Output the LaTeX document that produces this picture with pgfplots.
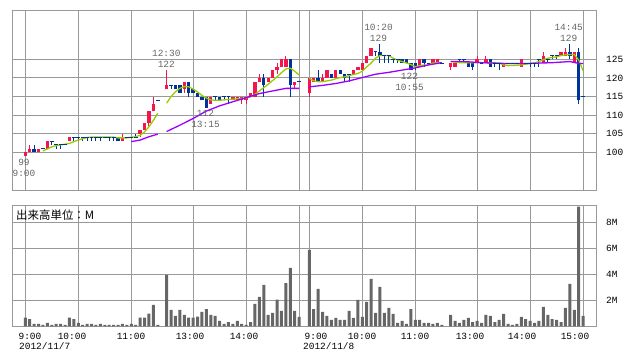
\documentclass[border=0pt]{standalone}
\usepackage{fontspec}
\setmainfont{Liberation Mono}
\newfontfamily\cjk{Noto Sans CJK JP}
\usepackage{pgfplots}
\usepackage{pgfplotstable}
\pgfplotsset{compat=1.18}
\definecolor{upc}{HTML}{F5144B}
\definecolor{dnc}{HTML}{003399}
\definecolor{maS}{HTML}{99CC00}
\definecolor{maL}{HTML}{9900FF}
\definecolor{gridc}{HTML}{999999}
\definecolor{volc}{HTML}{666666}
\definecolor{lblc}{HTML}{666666}
\newcommand{\lbl}{\fontsize{9.5}{10}\selectfont}

% i O H L C V(M)
\pgfplotstableread{
i O H L C V
0 99 100 99 100 0.67
1 100 102 100 101 0.56
2 101 102 100 100 0.18
3 100 101 100 101 0.18
4 101 101 101 101 0.10
5 101 103 101 103 0.26
6 103 103 102 103 0.10
7 102 102 101 102 0.18
8 102 102 101 102 0.18
9 102 102 102 102 0.10
10 103 104 103 104 0.67
11 104 104 103 104 0.56
12 104 104 103 104 0.26
13 104 104 103 104 0.10
14 104 104 103 104 0.18
15 104 104 103 104 0.18
16 104 104 103 104 0.10
17 104 104 103 104 0.18
18 104 104 104 104 0.10
19 104 104 103 104 0.10
20 104 104 103 104 0.10
21 104 104 103 103 0.10
22 103 105 103 104 0.18
23 104 104 104 104 0.10
24 104 104 104 104 0.18
25 104 105 104 104 0.10
26 105 106 104 106 0.67
27 106 108 106 108 0.67
28 108 111 107 111 0.97
29 111 115 111 113 1.64
30 114 114 114 114 0.10
32 117 122 117 118 3.95
33 118 118 117 118 1.26
34 118 118 117 117 0.80
35 118 118 116 116 1.26
36 117 119 116 119 0.87
37 119 119 115 116 0.67
38 117 117 116 116 0.67
39 116 116 115 115 0.74
40 115 115 114 114 1.10
41 115 115 112 112 1.33
42 113 115 113 115 0.87
43 115 115 114 115 0.80
44 115 115 114 114 0.41
45 115 115 114 115 0.18
46 115 115 113 115 0.33
47 114 115 114 115 0.18
48 114 115 114 115 0.41
49 114 115 113 115 0.18
50 114 115 113 115 0.10
51 115 116 115 116 0.33
52 115 119 115 119 1.72
53 119 121 119 120 2.26
54 120 121 115 118 3.18
55 119 120 119 120 0.87
56 120 122 120 122 1.03
57 122 124 121 123 2.05
58 123 125 123 125 1.18
59 123 126 123 125 3.33
60 125 125 115 118 4.49
61 118 119 117 119 1.18
62 119 119 119 119 0.72
}\dayone

\pgfplotstableread{
i O H L C V
0 116 120 115 120 5.87
1 119 120 119 120 1.33
2 120 122 119 119 2.87
3 119 121 119 120 1.10
4 120 122 120 122 0.80
5 121 121 120 120 0.49
6 120 122 120 122 0.64
7 122 122 121 121 0.49
8 121 121 119 120 0.49
9 121 121 119 121 1.18
10 121 122 121 122 0.64
11 122 123 122 123 2.03
12 122 124 122 124 0.72
13 124 126 124 126 1.87
14 126 128 126 128 3.64
15 127 127 126 127 1.03
16 127 129 124 126 3.03
17 126 126 124 126 1.03
18 126 126 124 126 1.41
19 125 125 124 125 0.95
20 125 125 124 125 0.26
21 125 125 124 124 0.41
22 125 125 124 124 0.18
23 124 124 122 122 1.33
24 124 124 122 123 0.49
25 123 125 123 125 0.49
26 125 125 123 124 0.26
27 124 124 124 124 0.26
28 124 125 124 125 0.18
29 124 125 124 125 0.26
30 124 124 124 124 0.10
32 123 124 122 124 0.87
33 123 124 123 124 0.41
34 125 125 124 125 0.26
35 125 125 124 125 0.49
36 124 124 123 123 0.64
37 124 124 122 123 0.33
38 124 126 124 125 0.41
39 124 124 124 124 0.26
40 124 126 124 125 0.87
41 125 125 123 123 0.80
42 124 124 123 124 0.33
43 124 124 122 124 0.49
44 123 124 123 124 0.95
45 124 124 124 124 0.18
46 124 124 124 124 0.10
47 124 124 124 124 0.18
48 123 125 123 125 0.72
49 124 124 124 124 0.56
50 124 124 123 124 0.41
51 124 124 123 124 0.26
52 125 125 123 125 0.41
53 124 127 124 126 1.49
54 125 125 124 125 0.87
55 126 126 125 126 0.56
56 126 126 125 126 0.49
57 126 127 126 127 0.33
58 126 128 126 127 1.41
59 127 129 125 126 3.26
60 124 127 124 127 1.26
61 127 128 113 114 9.20
62 115 115 115 115 0.80
}\daytwo

\pgfplotsset{
  chartbase/.style={
    scale only axis, width=584bp,
    xmin=-2.94, xmax=129.28,
    axis line style={gridc, line width=1bp},
    grid=major, major grid style={gridc, line width=1bp},
    major tick length=0pt,
    xtick={0,12,24,38,50,62,64.3,76.3,88.3,102.3,114.3,126.3},
    xticklabels={,,,,,,,,,,,},
    yticklabel pos=right,
    yticklabel style={anchor=west, inner sep=0pt, xshift=9.7bp, font=\lbl, black},
    /pgf/number format/assume math mode=true,
    clip=true,
  },
  wick/.style={draw=none, mark=none, forget plot,
    error bars/.cd, y dir=plus, y explicit, error mark=none,
    error bar style={draw=#1, line width=1bp}},
  body/.style={draw=none, mark=none, forget plot,
    error bars/.cd, y dir=plus, y explicit, error mark=none,
    error bar style={draw=#1, line width=3.4bp}},
}

\begin{document}
\begin{tikzpicture}
\useasboundingbox (0,0) rectangle (638bp,-362bp);

% ---------- price panel ----------
\begin{axis}[chartbase, at={(12.3bp,-10.3bp)}, anchor=north west,
  height=179.7bp, ymin=89.89, ymax=138.17, ytick={100,105,110,115,120,125}]

% day 1
\addplot[wick=upc] table[x=i, y expr={\thisrow{C}>\thisrow{O} ? \thisrow{L} : nan}, y error plus expr={\thisrow{H}-\thisrow{L}}] {\dayone};
\addplot[wick=dnc] table[x=i, y expr={\thisrow{C}>\thisrow{O} ? nan : \thisrow{L}}, y error plus expr={\thisrow{H}-\thisrow{L}}] {\dayone};
\addplot[body=upc] table[x=i, y expr={\thisrow{C}>\thisrow{O} ? \thisrow{O} : nan}, y error plus expr={\thisrow{C}-\thisrow{O}}] {\dayone};
\addplot[body=dnc] table[x=i, y expr={\thisrow{C}<\thisrow{O} ? \thisrow{C} : nan}, y error plus expr={\thisrow{O}-\thisrow{C}}] {\dayone};
\addplot[only marks, mark=-, mark size=1.9bp, dnc, mark options={line width=1bp}] table[x=i, y expr={\thisrow{C}==\thisrow{O} ? \thisrow{C} : nan}] {\dayone};

% day 2
\addplot[wick=upc] table[x expr={\thisrow{i}+64.3}, y expr={\thisrow{C}>\thisrow{O} ? \thisrow{L} : nan}, y error plus expr={\thisrow{H}-\thisrow{L}}] {\daytwo};
\addplot[wick=dnc] table[x expr={\thisrow{i}+64.3}, y expr={\thisrow{C}>\thisrow{O} ? nan : \thisrow{L}}, y error plus expr={\thisrow{H}-\thisrow{L}}] {\daytwo};
\addplot[body=upc] table[x expr={\thisrow{i}+64.3}, y expr={\thisrow{C}>\thisrow{O} ? \thisrow{O} : nan}, y error plus expr={\thisrow{C}-\thisrow{O}}] {\daytwo};
\addplot[body=dnc] table[x expr={\thisrow{i}+64.3}, y expr={\thisrow{C}<\thisrow{O} ? \thisrow{C} : nan}, y error plus expr={\thisrow{O}-\thisrow{C}}] {\daytwo};
\addplot[only marks, mark=-, mark size=1.9bp, dnc, mark options={line width=1bp}] table[x expr={\thisrow{i}+64.3}, y expr={\thisrow{C}==\thisrow{O} ? \thisrow{C} : nan}] {\daytwo};

% short moving average (green)
\addplot[maS, line width=1.3bp, mark=none] coordinates {
(4,100.4)(5,100.9)(6,101.5)(7,101.8)(8,102.0)(9,102.2)(10,102.4)(11,102.9)(12,103.3)(13,103.7)(14,104.0)(15,104.1)(16,104.1)(17,104.1)(18,104.1)(19,104.1)(20,104.1)(21,103.9)(22,103.9)(23,103.9)(24,104.1)(25,104.2)(26,104.6)(27,105.5)(28,106.9)(29,108.6)(30,110.5)};
\addplot[maS, line width=1.3bp, mark=none] coordinates {
(32,113.2)(33,115.0)(34,116.3)(35,117.2)(36,117.7)(37,117.6)(38,117.0)(39,116.2)(40,115.3)(41,114.6)(42,114.1)(43,114.0)(44,114.0)(45,114.1)(46,114.2)(47,114.3)(48,114.4)(49,114.5)(50,114.6)(51,114.9)(52,115.6)(53,116.5)(54,117.4)(55,118.3)(56,119.3)(57,120.3)(58,121.4)(59,122.4)(60,122.6)(61,121.8)(62,120.8)};
\addplot[maS, line width=1.3bp, mark=none] table[x expr={\thisrow{j}+64.3}, y=v] {
j v
0 119.9
1 119.2
2 119.0
3 119.0
4 119.2
5 119.4
6 119.8
7 120.1
8 120.3
9 120.6
10 120.9
11 121.2
12 121.8
13 123.0
14 124.0
15 125.3
16 126.0
17 126.0
18 126.0
19 125.3
20 124.8
21 124.4
22 124.0
23 123.6
24 123.0
25 123.3
26 123.5
27 123.5
28 124.0
29 124.1
30 124.1
};
\addplot[maS, line width=1.3bp, mark=none] table[x expr={\thisrow{j}+64.3}, y=v] {
j v
32 124.4
34 124.1
38 124.1
43 124.0
44 123.5
45 123.3
47 123.4
48 123.5
49 123.7
50 123.9
51 124.0
52 124.4
53 124.9
54 125.3
55 125.5
56 125.7
57 126.0
58 126.2
59 126.3
60 126.3
61 124.8
62 121.9
};

% long moving average (purple)
\addplot[maL, line width=1.3bp, mark=none] coordinates {
(24,102.9)(26,103.3)(28,104.2)(30,104.9)};
\addplot[maL, line width=1.3bp, mark=none] coordinates {
(32,105.6)(35,107.3)(38,109.1)(41,111.1)(44,112.5)(47,113.6)(50,114.7)(53,115.8)(56,116.5)(59,117.2)(62,117.2)};
\addplot[maL, line width=1.3bp, mark=none] table[x expr={\thisrow{j}+64.3}, y=v] {
j v
0 117.6
3 118.0
6 118.5
9 119.2
12 120.1
15 121.0
18 121.5
21 122.1
24 122.7
27 123.5
30 124.1
};
\addplot[maL, line width=1.3bp, mark=none] table[x expr={\thisrow{j}+64.3}, y=v] {
j v
32 124.4
35 124.4
39 124.1
44 123.9
50 123.9
55 124.1
59 124.4
61 123.9
62 123.9
};
\end{axis}

% ---------- volume panel ----------
\begin{axis}[chartbase, at={(12.3bp,-205bp)}, anchor=north west,
  height=121.3bp, ymin=0, ymax=9.33, ytick={2,4,6,8},
  yticklabels={2M,4M,6M,8M}]
\addplot[ybar, bar width=3bp, fill=volc, draw=none] table[x=i, y=V] {\dayone};
\addplot[ybar, bar width=3bp, fill=volc, draw=none] table[x expr={\thisrow{i}+64.3}, y=V] {\daytwo};
\end{axis}

% ---------- annotations ----------
\begin{scope}[every node/.style={font=\lbl, inner sep=0pt}]
\node[lblc] at (24bp,-162.7bp) {99};
\node[lblc] at (24bp,-173.3bp) {9:00};
\node[lblc] at (166.3bp,-53.3bp) {12:30};
\node[lblc] at (166.3bp,-64.7bp) {122};
\node[lblc] at (205.5bp,-113.7bp) {112};
\node[lblc] at (205.5bp,-124.5bp) {13:15};
\node[lblc] at (378.5bp,-27bp) {10:20};
\node[lblc] at (378.5bp,-38.3bp) {129};
\node[lblc] at (409.5bp,-76.7bp) {122};
\node[lblc] at (409.5bp,-87.8bp) {10:55};
\node[lblc] at (568.7bp,-27.5bp) {14:45};
\node[lblc] at (568.7bp,-38.7bp) {129};

% time axis labels
\node at (30bp,-336bp) {9:00};
\node at (72bp,-336bp) {10:00};
\node at (131bp,-336bp) {11:00};
\node at (190bp,-336bp) {13:00};
\node at (244bp,-336bp) {14:00};
\node at (316bp,-336bp) {9:00};
\node at (362bp,-336bp) {10:00};
\node at (415bp,-336bp) {11:00};
\node at (470bp,-336bp) {13:00};
\node at (522bp,-336bp) {14:00};
\node at (575bp,-336bp) {15:00};
\node[anchor=west] at (19bp,-346.5bp) {2012/11/7};
\node[anchor=west] at (303bp,-346.5bp) {2012/11/8};

\node[anchor=west, font=\cjk\fontsize{11.5}{12}\selectfont] at (16bp,-215bp) {出来高単位：M};
\end{scope}
\end{tikzpicture}
\end{document}
